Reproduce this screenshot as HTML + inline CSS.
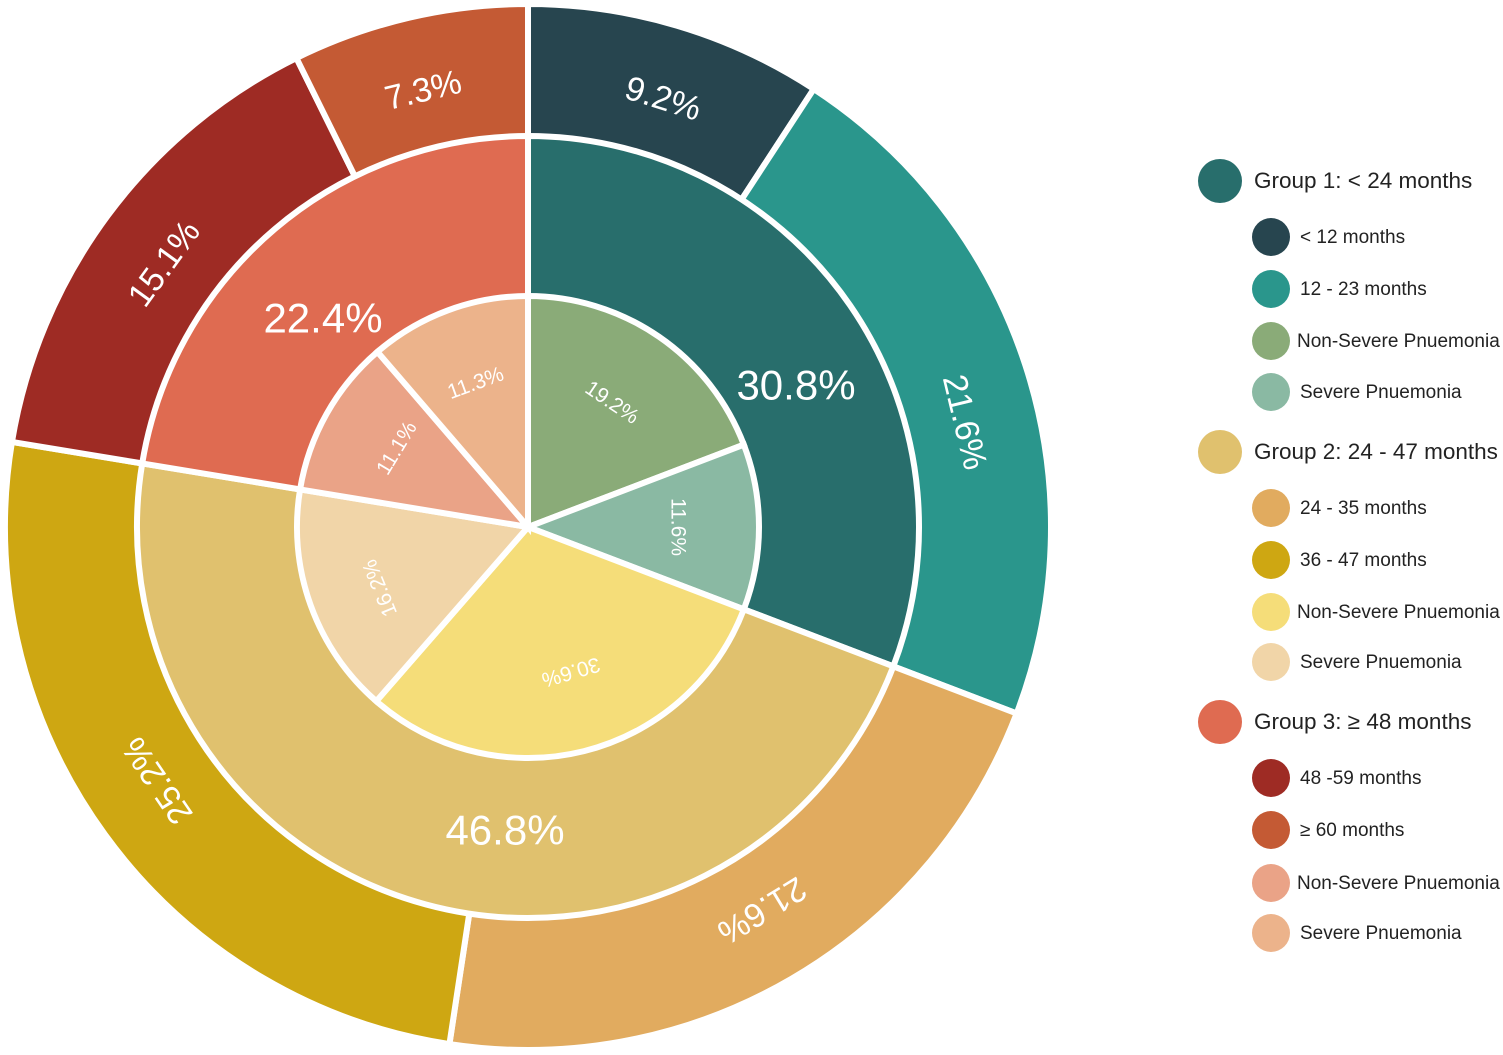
<!DOCTYPE html>
<html><head><meta charset="utf-8">
<style>
html,body{margin:0;padding:0;background:#fff;}
svg{display:block;font-family:"Liberation Sans",Arial,sans-serif;}
</style></head>
<body>
<svg id="s" width="1503" height="1055" viewBox="0 0 1503 1055" xmlns="http://www.w3.org/2000/svg">
<g id="arcs"></g>
<g fill="#fff" text-anchor="middle" dominant-baseline="central">
  <text font-size="34" transform="rotate(17.5 528 527) translate(528 78)">9.2%</text>
  <text font-size="34" transform="rotate(76.5 528 527) translate(528 78)">21.6%</text>
  <text font-size="34" transform="rotate(148.6 528 527) translate(528 78)">21.6%</text>
  <text font-size="34" transform="rotate(235.6 528 527) translate(528 78)">25.2%</text>
  <text font-size="34" transform="rotate(305.9 528 527) translate(528 78)">15.1%</text>
  <text font-size="34" transform="rotate(346.5 528 527) translate(528 78)">7.3%</text>
  <text font-size="42" x="796" y="385">30.8%</text>
  <text font-size="42" x="505" y="830">46.8%</text>
  <text font-size="42" x="323" y="318">22.4%</text>
  <text font-size="21" transform="rotate(34 528 527) translate(528 377)">19.2%</text>
  <text font-size="21" transform="rotate(90 528 527) translate(528 377)">11.6%</text>
  <text font-size="21" transform="rotate(163.5 528 527) translate(528 376)">30.6%</text>
  <text font-size="21" transform="rotate(247.6 528 527) translate(528 367)">16.2%</text>
  <text font-size="21" transform="rotate(301 528 527) translate(528 374)">11.1%</text>
  <text font-size="21" transform="rotate(340 528 527) translate(528 374)">11.3%</text>
</g>
<g font-size="22.5" fill="#222">
  <circle cx="1220" cy="181" r="22" fill="#286e6c"/><text x="1254" y="188">Group 1: &lt; 24 months</text>
  <circle cx="1220" cy="452" r="22" fill="#e0c16e"/><text x="1254" y="459">Group 2: 24 - 47 months</text>
  <circle cx="1220" cy="722" r="22" fill="#df6b51"/><text x="1254" y="729">Group 3: ≥ 48 months</text>
</g>
<g font-size="19" fill="#222">
  <circle cx="1271" cy="237" r="19" fill="#27454f"/><text x="1300" y="243">&lt; 12 months</text>
  <circle cx="1271" cy="289" r="19" fill="#2a968c"/><text x="1300" y="295">12 - 23 months</text>
  <circle cx="1271" cy="341" r="19" fill="#8aab78"/><text x="1297" y="347">Non-Severe Pnuemonia</text>
  <circle cx="1271" cy="392" r="19" fill="#8ab9a3"/><text x="1300" y="398">Severe Pnuemonia</text>
  <circle cx="1271" cy="508" r="19" fill="#e1ab5f"/><text x="1300" y="514">24 - 35 months</text>
  <circle cx="1271" cy="560" r="19" fill="#cea712"/><text x="1300" y="566">36 - 47 months</text>
  <circle cx="1271" cy="612" r="19" fill="#f5dd79"/><text x="1297" y="618">Non-Severe Pnuemonia</text>
  <circle cx="1271" cy="662" r="19" fill="#f1d5a8"/><text x="1300" y="668">Severe Pnuemonia</text>
  <circle cx="1271" cy="778" r="19" fill="#9e2b24"/><text x="1300" y="784">48 -59 months</text>
  <circle cx="1271" cy="830" r="19" fill="#c45a34"/><text x="1300" y="836">≥ 60 months</text>
  <circle cx="1271" cy="883" r="19" fill="#eaa387"/><text x="1297" y="889">Non-Severe Pnuemonia</text>
  <circle cx="1271" cy="933" r="19" fill="#ecb38b"/><text x="1300" y="939">Severe Pnuemonia</text>
</g>
</svg>
<script>
(function(){
var cx=528,cy=527,g=document.getElementById('arcs'),ns='http://www.w3.org/2000/svg';
function pt(r,a){var t=a*Math.PI/180;return [cx+r*Math.sin(t),cy-r*Math.cos(t)];}
function seg(r0,r1,a0,a1,col){
  var p,d,large=(a1-a0)>180?1:0;
  var A=pt(r1,a0),B=pt(r1,a1);
  if(r0>0){var C=pt(r0,a1),D=pt(r0,a0);
    d='M'+A+' A'+r1+','+r1+' 0 '+large+' 1 '+B+' L'+C+' A'+r0+','+r0+' 0 '+large+' 0 '+D+' Z';}
  else d='M'+cx+','+cy+' L'+A+' A'+r1+','+r1+' 0 '+large+' 1 '+B+' Z';
  p=document.createElementNS(ns,'path');p.setAttribute('d',d);p.setAttribute('fill',col);
  p.setAttribute('stroke','#fff');p.setAttribute('stroke-width','6');
  g.appendChild(p);
}
function ring(r0,r1,vals,cols){var a=0;for(var i=0;i<vals.length;i++){var b=a+vals[i]*3.6;seg(r0,r1,a,b,cols[i]);a=b;}}
ring(388,523,[9.2,21.6,21.6,25.2,15.1,7.3],['#27454f','#2a968c','#e1ab5f','#cea712','#9e2b24','#c45a34']);
ring(229,391,[30.8,46.8,22.4],['#286e6c','#e0c16e','#df6b51']);
ring(0,231,[19.2,11.6,30.6,16.2,11.1,11.3],['#8aab78','#8ab9a3','#f5dd79','#f1d5a8','#eaa387','#ecb38b']);
})();
</script>
</body></html>
